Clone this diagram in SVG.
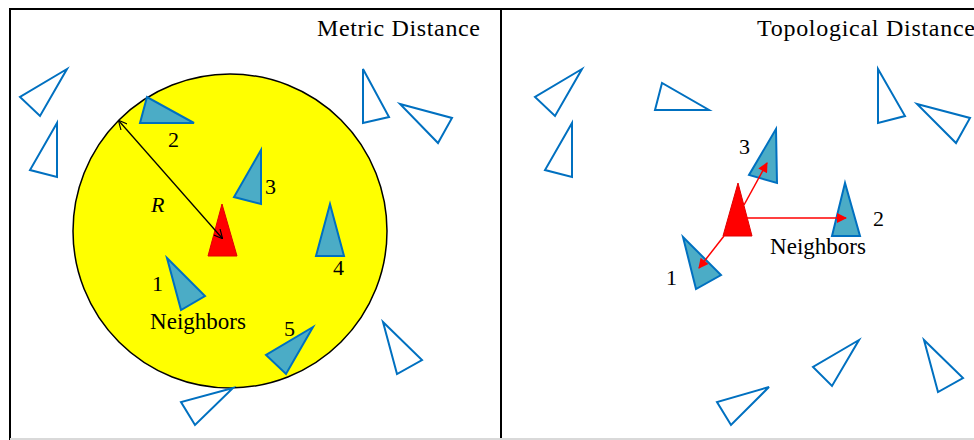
<svg xmlns="http://www.w3.org/2000/svg" width="974" height="440" viewBox="0 0 974 440">
<style>
.txt{font-family:"Liberation Serif","Times New Roman",serif;fill:#000;}
.title{font-size:24px;}
.lbl{font-size:22px;}
.nbl{font-size:23px;}
.out{fill:#fff;stroke:#0070C0;stroke-width:2;stroke-linejoin:miter;}
.nb{fill:#4BACC6;stroke:#0070C0;stroke-width:2;}
.me{fill:#FF0000;stroke:#E00000;stroke-width:1;}
.frame{fill:none;stroke:#000;stroke-width:2;}
</style>
<defs>
<marker id="openV" viewBox="0 0 10 10" refX="9" refY="5" markerWidth="9" markerHeight="9" markerUnits="userSpaceOnUse" orient="auto-start-reverse">
<path d="M0,0 L10,5 L0,10" fill="none" stroke="#000" stroke-width="1.3"/>
</marker>
<marker id="redA" viewBox="0 0 10 10" refX="9" refY="5" markerWidth="11" markerHeight="10" markerUnits="userSpaceOnUse" orient="auto">
<path d="M0,0 L10,5 L0,10 Z" fill="#FF0000"/>
</marker>
</defs>
<rect width="974" height="440" fill="#fff"/>
<g id="frame">
<path class="frame" d="M10,440 L10,9 L976,9"/>
<line x1="501" y1="9" x2="501" y2="440" stroke="#000" stroke-width="2"/>
<line x1="10" y1="439" x2="974" y2="439" stroke="#d9d9d9" stroke-width="2"/>
</g>
<g id="titles">
<text class="txt title" x="317" y="36" textLength="163" lengthAdjust="spacing">Metric Distance</text>
<text class="txt title" x="757" y="36" textLength="218" lengthAdjust="spacing">Topological Distance</text>
</g>
<g id="metric-circle">
<circle cx="230" cy="231" r="157" fill="#FFFF00" stroke="#000" stroke-width="1.5"/>
</g>
<g id="metric-others">
<polygon class="out" points="67,69 20,97 40,116"/>
<polygon class="out" points="57,123 30,170 57,177"/>
<polygon class="out" points="363,69 363,123 389,117"/>
<polygon class="out" points="400,104 452,118 438,143"/>
<polygon class="out" points="383,322 422,360 397,374"/>
<polygon class="out" points="233,388 181,402 195,425"/>
</g>
<g id="metric-n1"><polygon class="nb" points="167,258 205,296 181,310"/><text class="txt lbl" x="152" y="291">1</text></g>
<g id="metric-n2"><polygon class="nb" points="147,97 140,123 194,123"/><text class="txt lbl" x="168" y="147">2</text></g>
<g id="metric-n3"><polygon class="nb" points="261,150 234,197 261,204"/><text class="txt lbl" x="265" y="194">3</text></g>
<g id="metric-n4"><polygon class="nb" points="330,204 316,256 344,256"/><text class="txt lbl" x="333" y="275">4</text></g>
<g id="metric-n5"><polygon class="nb" points="313,327 266,355 286,374"/><text class="txt lbl" x="284" y="336">5</text></g>
<g id="metric-focal"><polygon class="me" points="222,204 208,256 237,256"/></g>
<g id="metric-labels">
<text class="txt nbl" x="150" y="329" textLength="96" lengthAdjust="spacing">Neighbors</text>
<text class="txt lbl" x="151" y="212" font-style="italic">R</text>
</g>
<g id="topo-others">
<polygon class="out" points="582,69 535,97 555,116"/>
<polygon class="out" points="572,123 545,170 572,177"/>
<polygon class="out" points="662,83 655,110 709,110"/>
<polygon class="out" points="878,69 878,123 905,116"/>
<polygon class="out" points="917,104 970,118 956,143"/>
<polygon class="out" points="769,387 717,402 731,425"/>
<polygon class="out" points="859,340 813,367 832,386"/>
<polygon class="out" points="924,340 963,378 938,392"/>
</g>
<g id="topo-n1"><polygon class="nb" points="683,237 696,289 721,275"/><text class="txt lbl" x="666" y="285">1</text></g>
<g id="topo-n2"><polygon class="nb" points="845,183 832,236 860,236"/><text class="txt lbl" x="873" y="226">2</text></g>
<g id="topo-n3"><polygon class="nb" points="776,129 749,175 777,183"/><text class="txt lbl" x="739" y="154">3</text></g>
<g id="topo-focal"><polygon class="me" points="738,183 723,236 752,236"/></g>
<g id="topo-labels">
<text class="txt nbl" x="770" y="254" textLength="96" lengthAdjust="spacing">Neighbors</text>
</g>
<g id="connectors">
<line x1="222" y1="238" x2="119" y2="121" stroke="#000" stroke-width="1.3" marker-start="url(#openV)" marker-end="url(#openV)"/>
<line x1="744" y1="205" x2="767" y2="163" stroke="#FF0000" stroke-width="1.5" marker-end="url(#redA)"/>
<line x1="746" y1="218" x2="846" y2="218" stroke="#FF0000" stroke-width="1.5" marker-end="url(#redA)"/>
<line x1="724" y1="236" x2="699" y2="268" stroke="#FF0000" stroke-width="1.5" marker-end="url(#redA)"/>
</g>
</svg>
